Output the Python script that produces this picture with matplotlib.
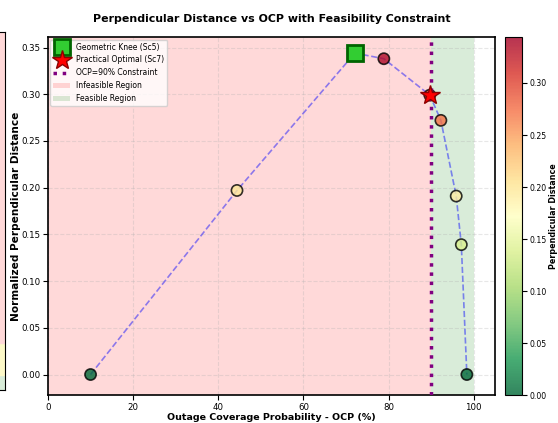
import numpy as np
import matplotlib
matplotlib.use("Agg")
import matplotlib.pyplot as plt
from matplotlib.patches import Patch
from matplotlib.lines import Line2D

# data
ocp = [10.0, 44.4, 72.1, 78.9, 89.7, 92.3, 95.9, 97.1, 98.4]
dist = [0.0, 0.197, 0.344, 0.338, 0.299, 0.272, 0.191, 0.139, 0.0]
knee_idx = 2      # Sc5
optimal_idx = 4   # Sc7
ocp_limit = 90.0

fig = plt.figure(figsize=(5.58, 4.23), dpi=100)

# edge of the neighbouring panel (figure was cropped out of a grid)
ax_l = fig.add_axes([-0.2, 0.078, 0.209, 0.846])
ax_l.axhspan(0.0, 0.042, color="#d8ecd8")
ax_l.axhspan(0.042, 0.131, color="#fdf9c8")
ax_l.axhspan(0.131, 1.0, color="#ffd8d8")
ax_l.set_xlim(0, 1)
ax_l.set_ylim(0, 1)
ax_l.set_xticks([])
ax_l.set_yticks([])

ax = fig.add_axes([0.086, 0.066, 0.801, 0.846])
cax = fig.add_axes([0.905, 0.066, 0.030, 0.846])

ax.axvspan(0, ocp_limit, color="red", alpha=0.15, lw=0, zorder=0)
ax.axvspan(ocp_limit, 100, color="green", alpha=0.15, lw=0, zorder=0)

ax.plot(ocp, dist, "--", color="blue", alpha=0.45, lw=1.2, zorder=2)
sc = ax.scatter(ocp, dist, c=dist, cmap="RdYlGn_r", vmin=0, vmax=max(dist),
                s=65, alpha=0.8, edgecolors="black", linewidths=1.2,
                zorder=3)

ax.axvline(ocp_limit, color="purple", ls=":", lw=2.5, zorder=4)

ax.plot(ocp[knee_idx], dist[knee_idx], "s", ms=12, mfc="limegreen",
        mec="darkgreen", mew=2, zorder=5)
ax.plot(ocp[optimal_idx], dist[optimal_idx], "*", ms=15, mfc="red",
        mec="darkred", mew=1, zorder=6)

ax.set_xlim(0, 105)
ax.set_ylim(-0.022, 0.361)
ax.set_xticks([0, 20, 40, 60, 80, 100])
ax.set_yticks(np.arange(0, 0.351, 0.05))
ax.tick_params(labelsize=6.2, pad=2)
ax.grid(True, ls="--", alpha=0.3)
for sp in ax.spines.values():
    sp.set_linewidth(1.2)

ax.set_xlabel("Outage Coverage Probability - OCP (%)", fontsize=6.8,
              fontweight="bold", labelpad=1)
ax.set_ylabel("Normalized Perpendicular Distance", fontsize=7.6,
              fontweight="bold", labelpad=0)
ax.set_title("Perpendicular Distance vs OCP with Feasibility Constraint",
             fontsize=7.9, fontweight="bold", pad=11)

handles = [
    Line2D([], [], ls="", marker="s", ms=12, mfc="limegreen",
           mec="darkgreen", mew=2),
    Line2D([], [], ls="", marker="*", ms=15, mfc="red", mec="darkred"),
    Line2D([], [], color="purple", ls=":", lw=2.5),
    Patch(facecolor="red", alpha=0.15),
    Patch(facecolor="green", alpha=0.15),
]
labels = ["Geometric Knee (Sc5)", "Practical Optimal (Sc7)",
          "OCP=90% Constraint", "Infeasible Region", "Feasible Region"]
ax.legend(handles, labels, loc="upper left", fontsize=5.5, framealpha=0.8,
          handlelength=2.2, borderaxespad=0.3, labelspacing=0.5)

cb = fig.colorbar(sc, cax=cax)
cb.set_label("Perpendicular Distance", fontsize=5.8, fontweight="bold",
             labelpad=2)
cb.ax.tick_params(labelsize=5.6, pad=2)

fig.savefig("out.png", dpi=100)
